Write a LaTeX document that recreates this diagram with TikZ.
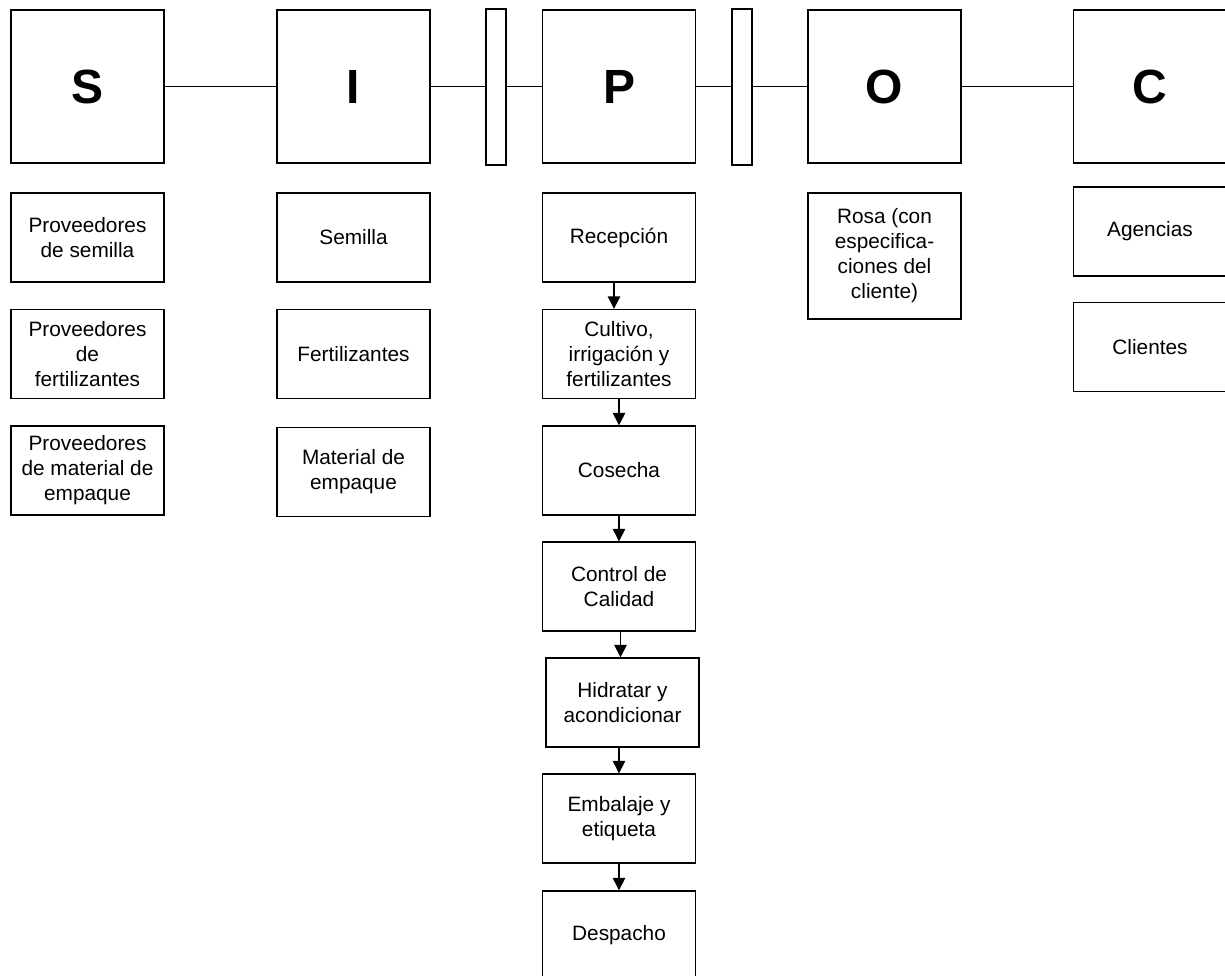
\documentclass[tikz,border=0pt]{standalone}
\usepackage{fontspec}
\setmainfont{Liberation Sans}
\usetikzlibrary{arrows.meta}
\begin{document}
\begin{tikzpicture}[x=1pt,y=-1pt,
  line width=1.4pt,
  letterbox/.style={draw, minimum width=153pt, minimum height=153pt, inner sep=0pt,
    font=\fontsize{48}{50}\selectfont\bfseries},
  gate/.style={draw, minimum width=20pt, minimum height=156pt, inner sep=0pt},
  item/.style={draw, minimum width=153pt, minimum height=89pt, inner sep=0pt,
    align=center, font=\fontsize{20.8}{25}\selectfont},
  flow/.style={-{Triangle[width=12.5pt,length=12.5pt]}},
]
\useasboundingbox (0,0) rectangle (1225,975);

% SIPOC header row
\node[letterbox] (S) at (87.5,86.5) {S};
\node[letterbox] (I) at (353.5,86.5) {I};
\node[gate] (g1) at (496,86.8) {};
\node[letterbox] (P) at (619,86.5) {P};
\node[gate] (g2) at (742,86.8) {};
\node[letterbox] (O) at (884.5,86.5) {O};
\node[letterbox] (C) at (1150,86.5) {C};

\draw (S.east) -- (I.west);
\draw (I.east) -- (g1.west |- I.east);
\draw (g1.east |- P.west) -- (P.west);
\draw (P.east) -- (g2.west |- P.east);
\draw (g2.east |- O.west) -- (O.west);
\draw (O.east) -- (C.west);

% Suppliers
\node[item] (s1) at (87.5,237.5) {Proveedores\\de semilla};
\node[item] (s2) at (87.5,354) {Proveedores\\de\\fertilizantes};
\node[item] (s3) at (87.5,470.5) {Proveedores\\de material de\\empaque};

% Inputs
\node[item] (i1) at (353.5,237.5) {Semilla};
\node[item] (i2) at (353.5,354) {Fertilizantes};
\node[item] (i3) at (353.5,472) {Material de\\empaque};

% Process
\node[item] (rec) at (619,237.5) {Recepción};
\node[item] (cul) at (619,354) {Cultivo,\\irrigación y\\fertilizantes};
\node[item] (cos) at (619,470.5) {Cosecha};
\node[item] (ctl) at (619,586.5) {Control de\\Calidad};
\node[item] (hid) at (622.5,702.5) {Hidratar y\\acondicionar};
\node[item] (emb) at (619,818.5) {Embalaje y\\etiqueta};
\node[item] (des) at (619,935.5) {Despacho};

\coordinate (r1) at ([xshift=-5pt]rec.south);
\draw[flow] (r1) -- (r1 |- cul.north);
\draw[flow] (cul.south) -- (cos.north);
\draw[flow] (cos.south) -- (ctl.north);
\draw[flow] ([xshift=1.5pt]ctl.south) -- ([xshift=1.5pt]ctl.south |- hid.north);
\draw[flow] (hid.south -| emb.north) -- (emb.north);
\draw[flow] (emb.south) -- (des.north);

% Outputs
\node[item, minimum height=126pt] (o1) at (884.5,256) {Rosa (con\\especifica-\\ciones del\\cliente)};

% Customers
\node[item] (c1) at (1150,231.5) {Agencias};
\node[item] (c2) at (1150,347) {Clientes};
\end{tikzpicture}
\end{document}
